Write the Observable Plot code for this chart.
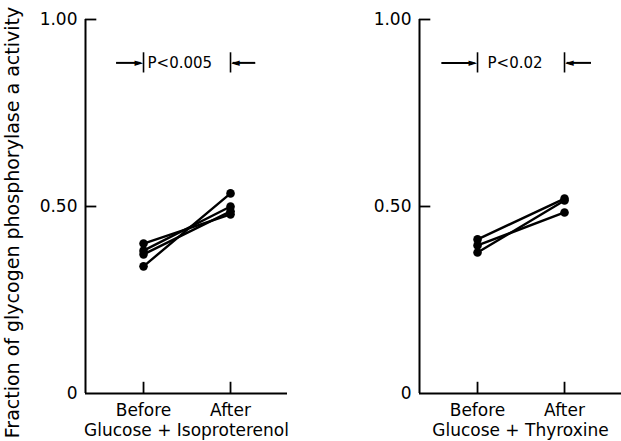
<!DOCTYPE html>
<html>
<head>
<meta charset="utf-8">
<script src="https://cdn.jsdelivr.net/npm/d3@7"></script>
<script src="https://cdn.jsdelivr.net/npm/@observablehq/plot@0.6"></script>
<style>
  html, body { margin: 0; padding: 0; background: #fff; }
  #wrap { display: flex; width: 621px; height: 441px; overflow: hidden; }
  svg { display: block; }
</style>
</head>
<body>
<div id="wrap"></div>
<script>
const categories = ["Before", "After"];
const yTicks = [0, 0.5, 1];
const yLabel = "Fraction of glycogen phosphorylase a activity";

// Glucose + Isoproterenol (paired: before -> after)
const isoBefore = [0.401, 0.382, 0.372, 0.340];
const isoAfter  = [0.479, 0.500, 0.487, 0.535];
// Glucose + Thyroxine
const thyBefore = [0.412, 0.396, 0.377];
const thyAfter  = [0.521, 0.484, 0.516];

const panels = [
  {title: "Glucose + Isoproterenol", p: "P<0.005", before: isoBefore, after: isoAfter},
  {title: "Glucose + Thyroxine", p: "P<0.02", before: thyBefore, after: thyAfter}
];

const font = "DejaVu Sans, sans-serif";

function makePanel(panel, idx) {
  const rows = [];
  panel.before.forEach((v, i) => {
    rows.push({subject: i, cond: categories[0], value: v});
    rows.push({subject: i, cond: categories[1], value: panel.after[i]});
  });
  const xi = d => categories.indexOf(d.cond);
  const xDom = [-0.667, 1.655];
  const isLeft = idx === 0;
  const pY = 0.884;
  const arrows = [
    {a: isLeft ? -0.31 : -0.41, b: -0.03, head: "\u25BA", anchor: "end"},
    {a: isLeft ? 1.29 : 1.31, b: 1.03, head: "\u25C4", anchor: "start"}
  ];
  const marks = [
    // axis lines
    Plot.ruleX([xDom[0]], {y1: 0, y2: 1, stroke: "#000", strokeWidth: 2}),
    Plot.ruleY([0], {x1: xDom[0], x2: xDom[1], stroke: "#000", strokeWidth: 2}),
    // inward ticks
    Plot.ruleX([0, 1], {y1: 0, y2: 0.03, stroke: "#000", strokeWidth: 1.8}),
    Plot.ruleY(yTicks.filter(t => t > 0), {x1: xDom[0], x2: xDom[0] + 0.13, stroke: "#000", strokeWidth: 1.8}),
    Plot.axisY({ticks: yTicks, tickFormat: d => d === 0 ? "0" : d.toFixed(2), tickSize: 0, tickPadding: 8, label: null, fontSize: 17}),
    Plot.axisX({ticks: [0, 1], tickFormat: i => categories[i], tickSize: 0, tickPadding: 10,
                label: panel.title, labelAnchor: "center", labelOffset: 42, labelArrow: "none", fontSize: 17}),
    // data
    Plot.line(rows, {x: xi, y: "value", z: "subject", stroke: "#000", strokeWidth: 2.4}),
    Plot.dot(rows, {x: xi, y: "value", r: 4.3, fill: "#000"}),
    // significance annotation
    Plot.ruleX([0, 1], {y1: pY - 0.027, y2: pY + 0.027, stroke: "#000", strokeWidth: 1.6}),
    Plot.ruleY(arrows, {x1: "a", x2: "b", y: () => pY, stroke: "#000", strokeWidth: 2}),
    Plot.text(arrows.filter(d => d.anchor === "end"), {x: "b", y: () => pY, text: "head", textAnchor: "end",
      fontSize: 11, fontFamily: font, fill: "#000", lineAnchor: "middle", dx: 2}),
    Plot.text(arrows.filter(d => d.anchor === "start"), {x: "b", y: () => pY, text: "head", textAnchor: "start",
      fontSize: 11, fontFamily: font, fill: "#000", lineAnchor: "middle", dx: -2}),
    Plot.text([panel.p], {x: () => 0, y: () => pY, text: d => d, textAnchor: "start", dx: isLeft ? 4 : 10,
      fontSize: 15, fontFamily: font, fill: "#000"})
  ];
  if (isLeft) {
    marks.push(Plot.text([yLabel], {frameAnchor: "left", rotate: -90, dx: -73, dy: 16, text: d => d,
      textAnchor: "middle", fontSize: 19, fontFamily: font, fill: "#000"}));
  }
  return Plot.plot({
    width: isLeft ? 310 : 311,
    height: 441,
    marginLeft: isLeft ? 85 : 109,
    marginRight: isLeft ? 23 : 0,
    marginTop: 19,
    marginBottom: 48,
    style: {fontFamily: font, fontSize: "17px", color: "#000", background: "#fff", overflow: "visible"},
    x: {type: "linear", domain: xDom, axis: null},
    y: {domain: [0, 1], axis: null},
    marks
  });
}

const wrap = document.getElementById("wrap");
panels.forEach((p, i) => wrap.appendChild(makePanel(p, i)));
</script>
</body>
</html>
